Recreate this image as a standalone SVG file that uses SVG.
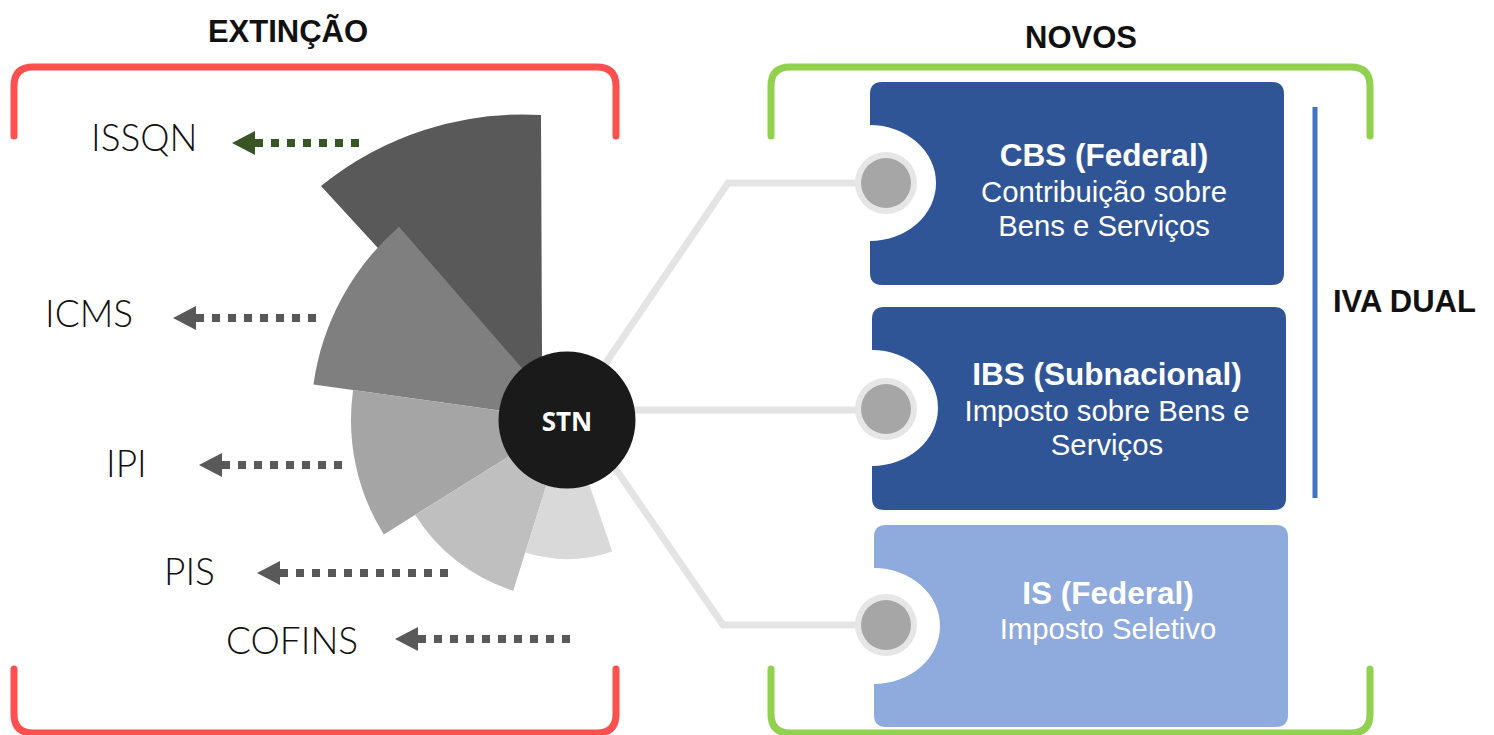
<svg xmlns="http://www.w3.org/2000/svg" width="1494" height="735" viewBox="0 0 1494 735">
  <defs>
    <style>
      .heading { font-family: "Liberation Sans", Arial, sans-serif; font-weight: bold; font-size: 31px; fill: #111111; }
      .tax { font-family: Lato, "Open Sans", sans-serif; font-weight: 300; font-size: 37px; fill: #111111; }
      .title { font-family: "Liberation Sans", Arial, sans-serif; font-weight: bold; font-size: 31.5px; fill: #ffffff; text-anchor: middle; }
      .desc { font-family: "Liberation Sans", Arial, sans-serif; font-size: 29.3px; fill: #ffffff; text-anchor: middle; }
      .bracket { fill: none; stroke-width: 7; stroke-linecap: round; stroke-linejoin: round; }
      .dotted { fill: none; stroke-width: 8; stroke-dasharray: 8 8; }
      .link { fill: none; stroke: #e4e4e4; stroke-width: 7; stroke-linejoin: miter; }
      .ring { fill: #e6e6e6; }
      .pin { fill: #a6a6a6; }
    </style>
    <marker id="head-grey" markerUnits="userSpaceOnUse" markerWidth="23" markerHeight="24" viewBox="0 0 23 24" refX="0" refY="12" orient="auto-start-reverse">
      <path d="M0,0 L23,12 L0,24 Z" fill="#595959"/>
    </marker>
    <marker id="head-green" markerUnits="userSpaceOnUse" markerWidth="23" markerHeight="24" viewBox="0 0 23 24" refX="0" refY="12" orient="auto-start-reverse">
      <path d="M0,0 L23,12 L0,24 Z" fill="#375623"/>
    </marker>
  </defs>

  <rect width="1494" height="735" fill="#ffffff"/>

  <!-- section brackets -->
  <g id="bracket-extincao">
    <path class="bracket" stroke="#ff5050" d="M14,136 V86 Q14,67 33,67 H597 Q616,67 616,86 V136"/>
    <path class="bracket" stroke="#ff5050" d="M14,669 V714 Q14,733 33,733 H597 Q616,733 616,714 V669"/>
  </g>
  <g id="bracket-novos">
    <path class="bracket" stroke="#92d050" d="M771,136 V86 Q771,67 790,67 H1351 Q1370,67 1370,86 V136"/>
    <path class="bracket" stroke="#92d050" d="M771,669 V714 Q771,733 790,733 H1351 Q1370,733 1370,714 V669"/>
  </g>

  <text class="heading" x="288" y="42" text-anchor="middle">EXTINÇÃO</text>
  <text class="heading" x="1081" y="48" text-anchor="middle">NOVOS</text>

  <!-- polar wedges around the STN hub -->
  <g id="wedges">
    <path id="wedge-issqn" fill="#595959" d="M545,430 L321,186 A320 320 0 0 1 541,115 L542,355 Z"/>
    <path id="wedge-icms" fill="#7f7f7f" d="M567,420 L313.5,384.4 A256 256 0 0 1 399,226.7 Z"/>
    <path id="wedge-ipi" fill="#a5a5a5" d="M567,420 L383.8,534.5 A216 216 0 0 1 353.1,389.9 Z"/>
    <path id="wedge-pis" fill="#bfbfbf" d="M567,420 L513.2,590.7 A179 179 0 0 1 415.2,514.9 Z"/>
    <path id="wedge-cofins" fill="#d9d9d9" d="M567,420 L612.3,551.4 A139 139 0 0 1 525.2,552.6 Z"/>
  </g>

  <!-- lines from the hub to the new taxes -->
  <g id="connectors">
    <path class="link" d="M567,420 L728,183 H886"/>
    <path class="link" d="M567,410 H886"/>
    <path class="link" d="M582,420 L723,625 H886"/>
    <line class="dotted" stroke="#375623" x1="255" y1="143" x2="359" y2="143" marker-start="url(#head-green)"/>
    <line class="dotted" stroke="#595959" x1="196" y1="318" x2="316" y2="318" marker-start="url(#head-grey)"/>
    <line class="dotted" stroke="#595959" x1="222" y1="465" x2="342" y2="465" marker-start="url(#head-grey)"/>
    <line class="dotted" stroke="#595959" x1="280" y1="573" x2="448" y2="573" marker-start="url(#head-grey)"/>
    <line class="dotted" stroke="#595959" x1="418" y1="639" x2="570" y2="639" marker-start="url(#head-grey)"/>
  </g>

  <g id="stn">
    <circle cx="567" cy="420" r="68.5" fill="#1a1a1a"/>
    <text x="567" y="431" text-anchor="middle" font-family="'Open Sans', 'DejaVu Sans', sans-serif" font-weight="bold" font-size="26" fill="#ffffff">STN</text>
  </g>

  <!-- taxes being extinguished -->
  <g id="label-issqn"><text class="tax" x="91" y="151">ISSQN</text></g>
  <g id="label-icms"><text class="tax" x="45" y="327">ICMS</text></g>
  <g id="label-ipi"><text class="tax" x="106" y="477">IPI</text></g>
  <g id="label-pis"><text class="tax" x="164" y="585">PIS</text></g>
  <g id="label-cofins"><text class="tax" x="226" y="654">COFINS</text></g>

  <!-- new taxes -->
  <g id="card-cbs">
    <path fill="#2f5597" d="M882,82 H1272 Q1284,82 1284,94 V273 Q1284,285 1272,285 H882 Q870,285 870,273 V241 A66 58 0 0 0 870,125 V94 Q870,82 882,82 Z"/>
    <circle class="ring" cx="886" cy="183" r="31"/>
    <circle class="pin" cx="886" cy="183" r="25"/>
    <text class="title" x="1104" y="166">CBS (Federal)</text>
    <text class="desc" x="1104" y="202">Contribuição sobre</text>
    <text class="desc" x="1104" y="236">Bens e Serviços</text>
  </g>
  <g id="card-ibs">
    <path fill="#2f5597" d="M884,307 H1274 Q1286,307 1286,319 V498 Q1286,510 1274,510 H884 Q872,510 872,498 V466 A66 58 0 0 0 872,350 V319 Q872,307 884,307 Z"/>
    <circle class="ring" cx="886" cy="409" r="31"/>
    <circle class="pin" cx="886" cy="409" r="25"/>
    <text class="title" x="1107" y="385">IBS (Subnacional)</text>
    <text class="desc" x="1107" y="421">Imposto sobre Bens e</text>
    <text class="desc" x="1107" y="455">Serviços</text>
  </g>
  <g id="card-is">
    <path fill="#8faadc" d="M886,525 H1276 Q1288,525 1288,537 V715 Q1288,727 1276,727 H886 Q874,727 874,715 V684 A66 58 0 0 0 874,568 V537 Q874,525 886,525 Z"/>
    <circle class="ring" cx="886" cy="625" r="31"/>
    <circle class="pin" cx="886" cy="625" r="25"/>
    <text class="title" x="1108" y="604">IS (Federal)</text>
    <text class="desc" x="1108" y="639">Imposto Seletivo</text>
  </g>

  <g id="iva-dual">
    <line x1="1315" y1="107" x2="1315" y2="498" stroke="#4472c4" stroke-width="5"/>
    <text class="heading" x="1333" y="312">IVA DUAL</text>
  </g>
</svg>
